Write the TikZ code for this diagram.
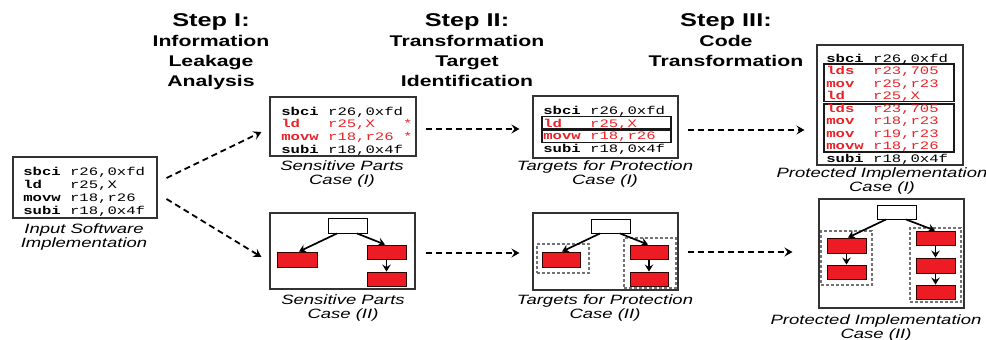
\documentclass[tikz,border=0pt]{standalone}
\usepackage{fontspec}
\setmainfont{Liberation Sans}
\newfontfamily\codefont{Liberation Mono}
\usetikzlibrary{arrows.meta,fit}
\definecolor{codered}{RGB}{235,35,40}
\definecolor{boxred}{RGB}{237,28,36}
% one assembly line: mnemonic padded to five columns, then operands
\newcommand\op[2]{\makebox[3em][l]{\bfseries #1}#2}
% same, with a marker in column 14
\newcommand\opstar[2]{\makebox[7.8em][l]{\op{#1}{#2}}*}

\begin{document}
\begin{tikzpicture}[x=1pt,y=-1pt,
  frame/.style={draw=black!80, line width=1.1pt, fill=white, inner sep=0pt},
  inner/.style={draw=black!90, line width=1.1pt, inner sep=0pt},
  group/.style={draw=black!55, line width=1.1pt, dash pattern=on 3pt off 2pt, inner sep=0pt},
  block/.style={draw=black, line width=0.9pt, fill=white, inner sep=0pt},
  redblock/.style={draw=black!80!red, line width=0.9pt, fill=boxred, inner sep=0pt},
  code/.style={inner sep=0pt, anchor=base west, xscale=1.37, font=\codefont\fontsize{11.4}{12.7}\selectfont},
  head/.style={inner sep=0pt, anchor=north, align=center, xscale=1.37, font=\bfseries\fontsize{15.5}{20}\selectfont},
  caption/.style={inner sep=0pt, anchor=north, align=center, xscale=1.37, font=\itshape\fontsize{13.5}{14}\selectfont},
  flow/.style={line width=1.8pt, dash pattern=on 6pt off 4pt, -{Stealth[length=8pt,width=9pt,inset=3pt]}},
  tree/.style={line width=1.7pt, -{Stealth[length=7pt,width=8.5pt,inset=2.5pt]}},
]
\useasboundingbox (0,0) rectangle (986,340);
\fill[white] (0,0) rectangle (986,340);

% ---- step headings
\node[head] (h1) at (211,13.5) {{\fontsize{18.5}{20}\selectfont Step I:}\\Information\\Leakage\\Analysis};
\node[head] (h2) at (467,13.5) {{\fontsize{18.5}{20}\selectfont Step II:}\\Transformation\\Target\\Identification};
\node[head] (h3) at (726,13.5) {{\fontsize{18.5}{20}\selectfont Step III:}\\Code\\Transformation};

% ---- input program
\node[frame, fit={(13,157) (157,218)}] (in) {};
\node[code, font=\codefont\fontsize{11.4}{13}\selectfont] (inc) at (23,175) {\begin{tabular}[t]{@{}l@{}}
\op{sbci}{r26,0xfd}\\
\op{ld}{r25,X}\\
\op{movw}{r18,r26}\\
\op{subi}{r18,0x4f}
\end{tabular}};
\node[caption] (inl) at (84,224) {Input Software\\Implementation};

% ---- sensitive parts, case I
\node[frame, fit={(270,97) (416,156)}] (s1) {};
\node[code] (s1c) at (281,115) {\begin{tabular}[t]{@{}l@{}}
\op{sbci}{r26,0xfd}\\
\color{codered}\opstar{ld}{r25,X}\\
\color{codered}\opstar{movw}{r18,r26}\\
\op{subi}{r18,0x4f}
\end{tabular}};
\node[caption] (s1l) at (342,161) {Sensitive Parts\\Case (I)};

% ---- targets, case I
\node[frame, fit={(533,96) (678,158)}] (t1) {};
\node[inner, fit={(542,116.5) (671,128.5)}] (t1a) {};
\node[inner, fit={(542,130) (671,142.5)}] (t1b) {};
\node[code] (t1c) at (543,114.5) {\begin{tabular}[t]{@{}l@{}}
\op{sbci}{r26,0xfd}\\
\color{codered}\op{ld}{r25,X}\\
\color{codered}\op{movw}{r18,r26}\\
\op{subi}{r18,0x4f}
\end{tabular}};
\node[caption] (t1l) at (605,161) {Targets for Protection\\Case (I)};

% ---- protected code, case I
\node[frame, fit={(817,45) (963,165)}] (p1) {};
\node[inner, fit={(824,64) (954,101.5)}] (p1a) {};
\node[inner, fit={(824,104) (954,152)}] (p1b) {};
\node[code, font=\codefont\fontsize{11.4}{12.56}\selectfont] (p1c) at (826,62) {\begin{tabular}[t]{@{}l@{}}
\op{sbci}{r26,0xfd}\\
\color{codered}\op{lds}{r23,705}\\
\color{codered}\op{mov}{r25,r23}\\
\color{codered}\op{ld}{r25,X}\\
\color{codered}\op{lds}{r23,705}\\
\color{codered}\op{mov}{r18,r23}\\
\color{codered}\op{mov}{r19,r23}\\
\color{codered}\op{movw}{r18,r26}\\
\op{subi}{r18,0x4f}
\end{tabular}};
\node[caption] (p1l) at (882,168) {Protected Implementation\\Case (I)};

% ---- sensitive parts, case II
\node[frame, fit={(270,213) (415,289)}] (s2) {};
\node[block, fit={(328,218) (367,233)}] (w1) {};
\node[redblock, fit={(277,252) (317,267)}] (l1) {};
\node[redblock, fit={(367,245) (406,259)}] (r1a) {};
\node[redblock, fit={(367,272) (406,286)}] (r1b) {};
\draw[tree] ([xshift=-10.5pt]w1.south) -- ([xshift=2pt]l1.north);
\draw[tree] ([xshift=9.5pt]w1.south) -- ([xshift=-1.5pt]r1a.north);
\draw[tree] (r1a.south) -- (r1b.north);
\node[caption] (s2l) at (343,295) {Sensitive Parts\\Case (II)};

% ---- targets, case II
\node[frame, fit={(533,213) (678,290)}] (t2) {};
\node[group, fit={(537,244) (589,273)}] (g2l) {};
\node[group, fit={(624,238) (676,288)}] (g2r) {};
\node[block, fit={(591,219) (630,233)}] (w2) {};
\node[redblock, fit={(542,252) (580,267)}] (l2) {};
\node[redblock, fit={(630,245) (668,259)}] (r2a) {};
\node[redblock, fit={(630,272) (668,286)}] (r2b) {};
\draw[tree] ([xshift=-10.5pt]w2.south) -- ([xshift=1pt]l2.north);
\draw[tree] ([xshift=9.5pt]w2.south) -- ([xshift=-1pt]r2a.north);
\draw[tree] (r2a.south) -- (r2b.north);
\node[caption] (t2l) at (605,295) {Targets for Protection\\Case (II)};

% ---- protected code, case II
\node[frame, fit={(819,199) (964,308)}] (p2) {};
\node[group, fit={(821,231) (872,285)}] (g3l) {};
\node[group, fit={(910,228) (961,302)}] (g3r) {};
\node[block, fit={(877,205) (916,219)}] (w3) {};
\node[redblock, fit={(827,238) (866,253)}] (l3a) {};
\node[redblock, fit={(827,265) (866,279)}] (l3b) {};
\node[redblock, fit={(916,231) (955,245)}] (r3a) {};
\node[redblock, fit={(916,258) (955,273)}] (r3b) {};
\node[redblock, fit={(916,285) (955,299)}] (r3c) {};
\draw[tree] ([xshift=-10.5pt]w3.south) -- ([xshift=1.5pt]l3a.north);
\draw[tree] ([xshift=9.5pt]w3.south) -- ([xshift=-0.5pt]r3a.north);
\draw[tree] (l3a.south) -- (l3b.north);
\draw[tree] (r3a.south) -- (r3b.north);
\draw[tree] (r3b.south) -- (r3c.north);
\node[caption] (p2l) at (876,315) {Protected Implementation\\Case (II)};

% ---- flow between the steps
\draw[flow] ([xshift=9pt,yshift=9.5pt]in.east) -- ([xshift=-8pt,yshift=-5.5pt]s1.west);
\draw[flow] ([xshift=9pt,yshift=-11.5pt]in.east) -- ([xshift=-8pt,yshift=-6pt]s2.west);
\draw[flow] ([xshift=9pt,yshift=-2.5pt]s1.east) -- ([xshift=-13pt,yshift=-2pt]t1.west);
\draw[flow] ([xshift=9pt,yshift=-3pt]t1.east) -- ([xshift=-12pt,yshift=-25pt]p1.west);
\draw[flow] ([xshift=10pt,yshift=-2pt]s2.east) -- ([xshift=-13pt,yshift=-1.5pt]t2.west);
\draw[flow] ([xshift=9pt,yshift=-0.5pt]t2.east) -- ([xshift=-26pt,yshift=1.5pt]p2.west);
\end{tikzpicture}
\end{document}
